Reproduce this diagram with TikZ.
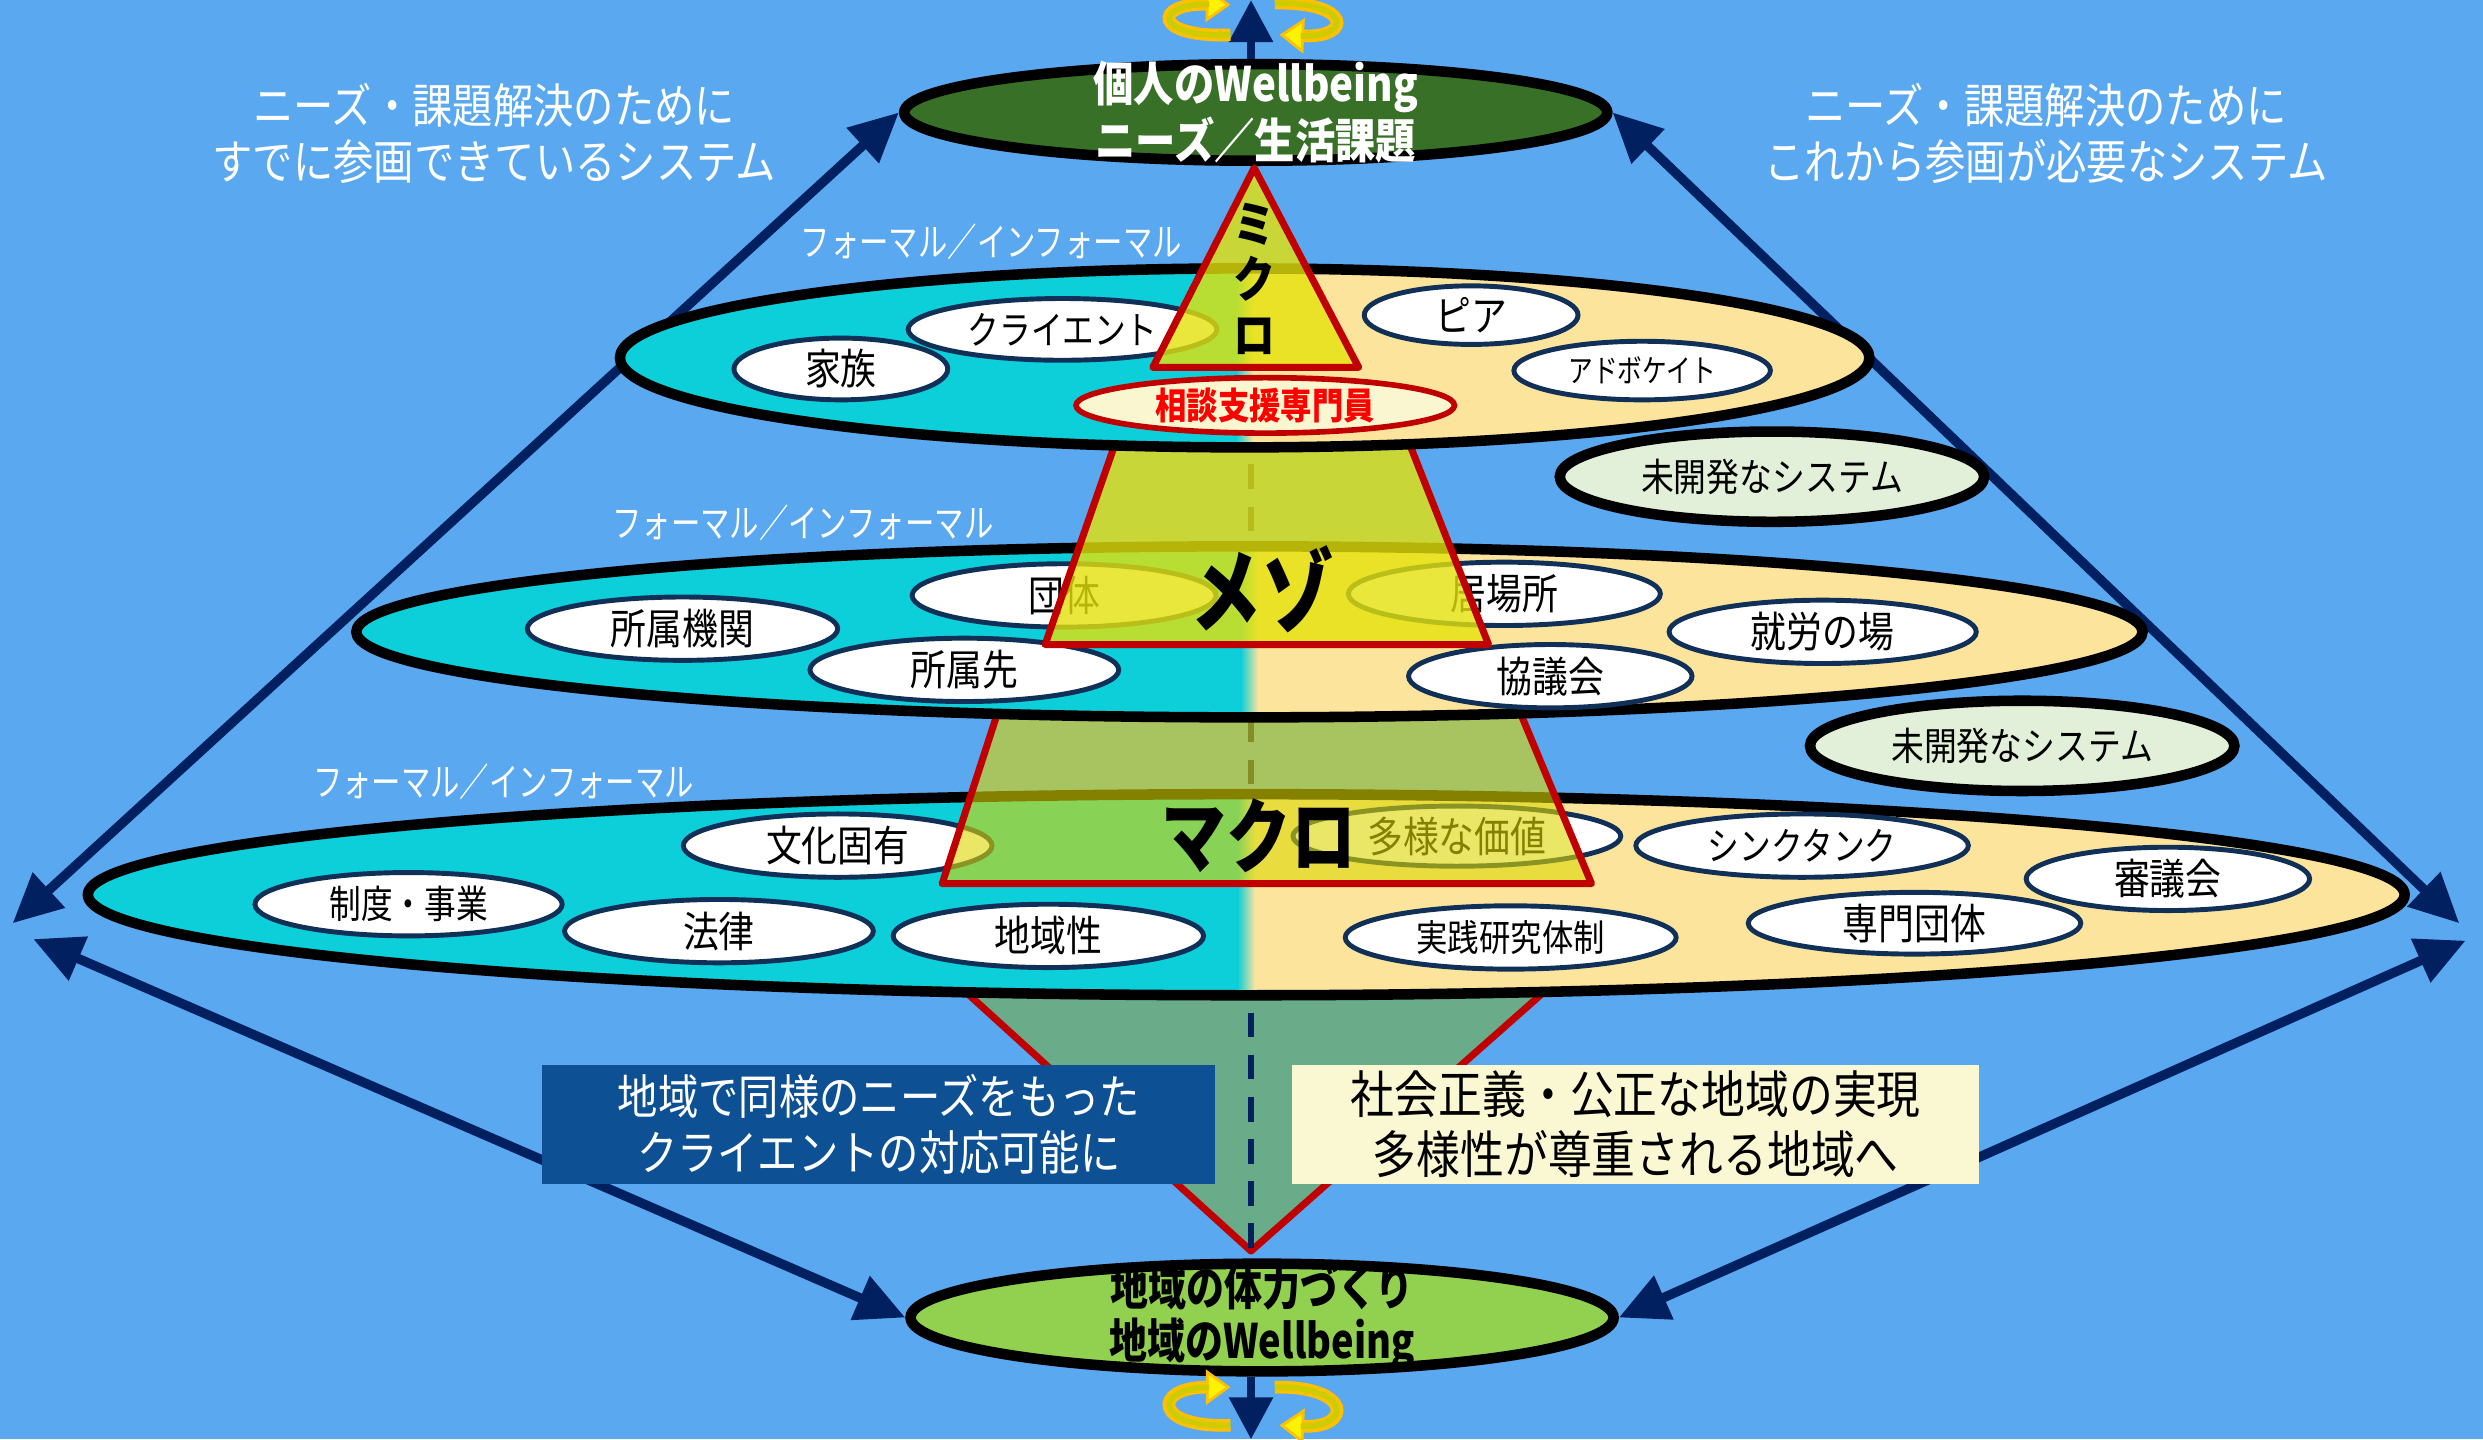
\documentclass[tikz,border=0pt]{standalone}
\usepackage{fontspec}
\setmainfont{Noto Sans CJK JP}[FakeStretch=0.85]
\usetikzlibrary{arrows.meta,shapes.geometric,positioning}

\newcommand{\pxu}{0.015836cm}

\definecolor{bgblue}{RGB}{90,168,240}
\definecolor{navy}{RGB}{0,32,96}
\definecolor{formal}{RGB}{12,207,217}
\definecolor{informal}{RGB}{253,228,156}
\definecolor{indivgreen}{RGB}{56,112,40}
\definecolor{localgreen}{RGB}{146,208,80}
\definecolor{sysline}{RGB}{16,48,88}
\definecolor{newsys}{RGB}{226,240,217}
\definecolor{boxblue}{RGB}{13,80,148}
\definecolor{boxcream}{RGB}{250,248,210}
\definecolor{pyrred}{RGB}{192,0,0}
\definecolor{pyryellow}{RGB}{228,226,10}
\definecolor{macroyellow}{RGB}{220,215,0}
\definecolor{funnel}{RGB}{106,172,138}
\definecolor{ringgold}{RGB}{255,192,0}
\definecolor{ringolive}{RGB}{204,204,0}
\definecolor{consultfill}{RGB}{250,247,208}

\tikzset{
    goal/.style = {ellipse, draw=black, line width=3pt, inner sep=0pt},
    goaltext/.style = {align=center, font=\fontsize{13.5pt}{14pt}\selectfont\bfseries},
    levelband/.style 2 args = {ellipse, draw=black, line width=3pt, fill=formal, inner sep=0pt,
        minimum width=#1*\pxu, minimum height=#2*\pxu,
        path picture={
            \fill[informal] (path picture bounding box.north) rectangle (path picture bounding box.south east);
            \shade[left color=formal, right color=informal] ([xshift=-2.5pt]path picture bounding box.north) rectangle ([xshift=2.5pt]path picture bounding box.south);
        }},
    sys/.style 2 args = {ellipse, draw=sysline, line width=1.4pt, fill=white, inner sep=0pt,
        minimum width=#1*\pxu, minimum height=#2*\pxu, font=\fontsize{12pt}{13pt}\selectfont},
    kana/.style = {font=\fontsize{11pt}{12pt}\selectfont\addfontfeature{FakeStretch=0.82}},
    newsysnode/.style = {sys={268}{57}, draw=black, line width=3pt, fill=newsys, font=\fontsize{11pt}{12pt}\selectfont},
    tier/.style = {draw=pyrred, line width=2pt, line join=round},
    tierlabel/.style = {font=\fontsize{23pt}{24pt}\selectfont\bfseries\addfontfeature{FakeStretch=0.8}},
    fmlabel/.style = {text=white, font=\fontsize{11pt}{12pt}\selectfont\addfontfeature{FakeStretch=0.76}},
    sidetext/.style = {text=white, align=center, font=\fontsize{13.5pt}{16pt}\selectfont},
    bigarrow/.style = {navy, line width=2.7pt, {Triangle[length=14pt,width=13pt]}-{Triangle[length=14pt,width=13pt]}},
    ring/.style = {draw=ringgold, line width=3.6pt, -{Triangle[length=7pt,width=10pt,fill=yellow,line width=0.8pt]}},
    ringcore/.style = {draw=ringolive, line width=1.6pt, shorten >=6pt}
}

\begin{document}
\begin{tikzpicture}[x=0.015836cm, y=-0.015836cm]
\fill[bgblue] (0,0) rectangle (1568,909);
\useasboundingbox (0,0) rectangle (1568,909);

% individual / local goals
\node[goal, fill=indivgreen, minimum width=444*\pxu, minimum height=61*\pxu] (indiv) at (793,71) {};
\node[goaltext, text=white] (indivtext) at (indiv) {個人のWellbeing\\ニーズ／生活課題};
\node[goal, fill=localgreen, minimum width=444*\pxu, minimum height=68*\pxu] (local) at (797,832) {};
\node[goaltext, font=\fontsize{13.5pt}{15pt}\selectfont\bfseries\addfontfeature{FakeStretch=0.8}] (localtext) at (local) {地域の体力づくり\\地域のWellbeing};

\coordinate (topend) at (790,0);
\coordinate (bottomend) at (790,909);
\draw[navy, line width=2.5pt, -{Triangle[length=12pt,width=12pt]}] (topend |- indiv.north) -- (topend);
\draw[navy, line width=2.5pt, -{Triangle[length=12pt,width=12pt]}] (bottomend |- local.south) -- (bottomend);

% rotation marks
\draw[ring] (777,22) .. controls (728,24) and (728,2) .. (777,3);
\draw[ringcore] (777,22) .. controls (728,24) and (728,2) .. (777,3);
\draw[ring] (805,2) .. controls (854,1) and (854,24) .. (808,22);
\draw[ringcore] (805,2) .. controls (854,1) and (854,24) .. (808,22);
\draw[ring] (777,900) .. controls (728,902) and (728,876) .. (777,876);
\draw[ringcore] (777,900) .. controls (728,902) and (728,876) .. (777,876);
\draw[ring] (805,876) .. controls (854,875) and (854,902) .. (808,900);
\draw[ringcore] (805,876) .. controls (854,875) and (854,902) .. (808,900);

% outer arrows
\coordinate (farL1) at (8,583);
\coordinate (farL2) at (21,593);
\coordinate (farR1) at (1553,583);
\coordinate (farR2) at (1557,594);
\draw[bigarrow] (farL1) -- (indiv.west);
\draw[bigarrow] (farR1) -- (indiv.east);
\draw[bigarrow] (farL2) -- (local.west);
\draw[bigarrow] (farR2) -- (local.east);

\node[sidetext] (joinedtext) at (312,84) {ニーズ・課題解決のために\\すでに参画できているシステム};
\node[sidetext] (futuretext) at (1292,84) {ニーズ・課題解決のために\\これから参画が必要なシステム};

% funnel to the local goal
\filldraw[tier, fill=funnel] (605,622) -- (980,622) -- (790,790) -- cycle;
\coordinate (axistop) at (790,240);
\draw[navy, line width=1.6pt, dash pattern=on 7pt off 5pt] (axistop) -- (axistop |- local.north);

\node[fill=boxblue, minimum width=425*\pxu, minimum height=75*\pxu] (leftbox) at (555,710) {};
\node[sidetext] (lefttext) at (leftbox) {地域で同様のニーズをもった\\クライエントの対応可能に};
\node[fill=boxcream, minimum width=434*\pxu, minimum height=75*\pxu] (rightbox) at (1033,710) {};
\node[sidetext, text=black, font=\fontsize{14.5pt}{17pt}\selectfont\addfontfeature{FakeStretch=0.86}] (righttext) at (rightbox) {社会正義・公正な地域の実現\\多様性が尊重される地域へ};

% macro
\node[levelband={1463}{127}] (macro) at (787,565) {};
\node[fmlabel] (fml3) at (318,494) {フォーマル／インフォーマル};
\node[sys={195}{40}] (culture) at (529,534) {文化固有};
\node[sys={207}{38}] (diversity) at (920,528) {多様な価値};
\node[sys={210}{40}, kana] (thinktank) at (1138,534) {シンクタンク};
\node[sys={179}{40}] (deliberate) at (1369,555) {審議会};
\node[sys={194}{40}, kana] (scheme) at (258,571) {制度・事業};
\node[sys={195}{40}] (law) at (454,588) {法律};
\node[sys={196}{40}] (locality) at (662,591) {地域性};
\node[sys={209}{40}, font=\fontsize{10.5pt}{11pt}\selectfont] (practice) at (954,592) {実践研究体制};
\node[sys={210}{39}] (profgroup) at (1209,583) {専門団体};
\node[newsysnode] (newsysB) at (1277,471) {未開発なシステム};
\filldraw[tier, fill=macroyellow, fill opacity=0.6] (630,450) -- (960,450) -- (1005,558) -- (595,558) -- cycle;

% meso
\node[levelband={1128}{108}] (meso) at (789,399) {};
\node[fmlabel] (fml2) at (507,330) {フォーマル／インフォーマル};
\node[sys={192}{40}] (group) at (672,376) {団体};
\node[sys={197}{40}] (place) at (950,375) {居場所};
\node[sys={196}{40}] (affil) at (431,397) {所属機関};
\node[sys={195}{40}] (affilto) at (609,423) {所属先};
\node[sys={194}{40}] (work) at (1151,399) {就労の場};
\node[sys={179}{40}] (council) at (979,427) {協議会};
\node[newsysnode] (newsysA) at (1119,301) {未開発なシステム};
\filldraw[tier, fill=pyryellow, fill opacity=0.8] (706,275) -- (888,275) -- (940,407) -- (660,407) -- cycle;

% micro
\node[levelband={789}{113}] (micro) at (786,226) {};
\node[fmlabel] (fml1) at (626,153) {フォーマル／インフォーマル};
\node[sys={135}{39}] (family) at (531,233) {家族};
\node[sys={195}{39}, kana] (client) at (671,208) {クライエント};
\node[sys={135}{37}] (peer) at (929,199) {ピア};
\node[sys={162}{37}, font=\fontsize{9pt}{10pt}\selectfont\addfontfeature{FakeStretch=0.78}] (advocate) at (1037,234) {アドボケイト};
\filldraw[tier, fill=pyryellow, fill opacity=0.8] (792,106) -- (858,232) -- (728,232) -- cycle;
\node[sys={239}{35}, draw=pyrred, line width=1.6pt, fill=consultfill, text=red, font=\fontsize{10.5pt}{12pt}\selectfont\bfseries] (consultant) at (799,256) {相談支援専門員};

% level labels
\node[align=center, font=\fontsize{14pt}{15.8pt}\selectfont\bfseries] (microlbl) at (792,176) {ミ\\ク\\ロ};
\node[tierlabel, font=\fontsize{26pt}{27pt}\selectfont\bfseries\addfontfeature{FakeStretch=0.78}] (mesolbl) at (797,372) {メゾ};
\node[tierlabel] (macrolbl) at (795,528) {マクロ};
\end{tikzpicture}
\end{document}
